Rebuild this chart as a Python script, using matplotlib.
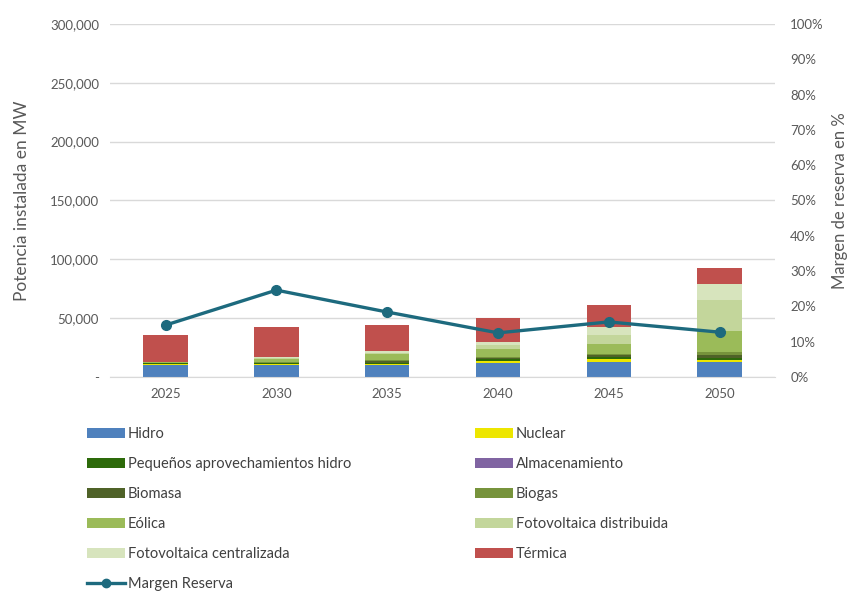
import matplotlib.pyplot as plt
from matplotlib.patches import Patch
from matplotlib.lines import Line2D
from matplotlib.ticker import FuncFormatter

plt.rcParams['font.family'] = ['Lato', 'DejaVu Sans']

# data (MW, stacked)
years = ['2025', '2030', '2035', '2040', '2045', '2050']
hidro = [10200, 9900, 10200, 12100, 13000, 13000]
nuclear = [1000, 900, 1000, 1500, 1900, 1600]
pequenos = [600, 800, 1000, 1300, 1800, 1300]
almacenamiento = [0, 0, 0, 0, 0, 0]
biomasa = [300, 300, 1500, 1500, 1800, 2600]
biogas = [200, 500, 800, 700, 800, 2500]
eolica = [300, 2800, 4800, 6800, 8500, 18100]
fv_dist = [0, 1300, 1500, 3000, 8000, 26350]
fv_central = [0, 500, 1300, 2500, 6450, 13300]
termica = [23300, 25200, 22100, 20400, 19000, 13600]
margen = [14.7, 24.6, 18.4, 12.5, 15.6, 12.7]  # %

series = [
    ("Hidro", hidro, "#4F81BD"),
    ("Nuclear", nuclear, "#EDE600"),
    ("Pequeños aprovechamientos hidro", pequenos, "#2D6A0A"),
    ("Almacenamiento", almacenamiento, "#8064A2"),
    ("Biomasa", biomasa, "#4F6228"),
    ("Biogas", biogas, "#77933C"),
    ("Eólica", eolica, "#9BBB59"),
    ("Fotovoltaica distribuida", fv_dist, "#C3D69B"),
    ("Fotovoltaica centralizada", fv_central, "#D7E4BD"),
    ("Térmica", termica, "#C0504D"),
]
line_color = "#1D6A7E"
gray = "#595959"

fig = plt.figure(figsize=(8.54, 5.97), dpi=100)
ax = fig.add_axes([0.129, 0.3685, 0.7785, 0.5915])

x = list(range(len(years)))
bottom = [0] * len(years)
for name, vals, col in series:
    ax.bar(x, vals, width=0.4, bottom=bottom, color=col, zorder=2)
    bottom = [b + v for b, v in zip(bottom, vals)]

ax.set_xlim(-0.5, 5.5)
ax.set_ylim(0, 300000)
ax.set_yticks(range(0, 300001, 50000))
ax.yaxis.set_major_formatter(FuncFormatter(lambda v, p: "-" if v == 0 else f"{int(v):,}"))
ax.set_xticks(x)
ax.set_xticklabels(years)
ax.grid(axis='y', color='#D9D9D9', linewidth=1, zorder=0)
ax.tick_params(length=0, colors=gray, labelsize=9.5, pad=8)
for s in ['top', 'right', 'left']:
    ax.spines[s].set_visible(False)
ax.spines['bottom'].set_color('#D9D9D9')
ax.set_ylabel("Potencia instalada en MW", fontsize=12.5, color=gray, labelpad=14)

ax2 = ax.twinx()
ax2.plot(x, margen, color=line_color, linewidth=2.4, marker='o', markersize=7, zorder=3)
ax2.set_ylim(0, 100)
ax2.set_yticks(range(0, 101, 10))
ax2.yaxis.set_major_formatter(FuncFormatter(lambda v, p: f"{int(v)}%"))
ax2.tick_params(length=0, colors=gray, labelsize=9.5, pad=11)
for s in ax2.spines.values():
    s.set_visible(False)
ax2.set_ylabel("Margen de reserva en %", fontsize=12, color=gray, labelpad=6)

# legend in two columns, row-major like the reference
handles = [Patch(facecolor=c, edgecolor='none') for _, _, c in series]
labels = [n for n, _, _ in series]
handles.append(Line2D([0], [0], color=line_color, linewidth=2.4, marker='o', markersize=6))
labels.append("Margen Reserva")

left_idx = [0, 2, 4, 6, 8, 10]
right_idx = [1, 3, 5, 7, 9]
kw = dict(frameon=False, fontsize=10.5, labelcolor='#404040', handlelength=2.6,
          handleheight=0.7, handletextpad=0.2, labelspacing=1.1, borderpad=0, borderaxespad=0)
leg1 = fig.legend([handles[i] for i in left_idx], [labels[i] for i in left_idx],
                  loc='upper left', bbox_to_anchor=(0.102, 0.285), **kw)
leg2 = fig.legend([handles[i] for i in right_idx], [labels[i] for i in right_idx],
                  loc='upper left', bbox_to_anchor=(0.556, 0.285), **kw)

fig.savefig("out.png", dpi=100)
